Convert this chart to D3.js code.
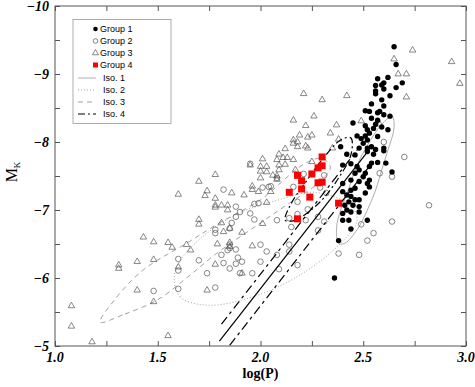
<!DOCTYPE html>
<html><head><meta charset="utf-8">
<script src="https://cdn.jsdelivr.net/npm/d3@7"></script>
<style>body{margin:0;background:#fff}</style></head>
<body><svg id="c" width="475" height="387"></svg>
<script>
// ---- data (log P, M_K) ----
const group1 = [[2.65,-9.40],[2.66,-9.14],[2.62,-8.95],[2.57,-8.93],[2.60,-8.87],[2.59,-8.84],[2.56,-8.83],[2.69,-8.87],[2.66,-8.80],[2.60,-8.78],[2.56,-8.75],[2.56,-8.71],[2.63,-8.68],[2.59,-8.62],[2.54,-8.56],[2.60,-8.53],[2.51,-8.46],[2.53,-8.45],[2.58,-8.45],[2.57,-8.43],[2.60,-8.40],[2.63,-8.38],[2.54,-8.35],[2.57,-8.32],[2.45,-8.28],[2.51,-8.24],[2.56,-8.26],[2.59,-8.22],[2.55,-8.20],[2.62,-8.18],[2.52,-8.18],[2.53,-8.13],[2.51,-8.09],[2.47,-8.09],[2.49,-8.05],[2.57,-8.08],[2.52,-8.03],[2.39,-7.93],[2.60,-7.91],[2.50,-7.98],[2.48,-7.91],[2.52,-7.91],[2.54,-7.93],[2.56,-7.89],[2.42,-7.82],[2.46,-7.81],[2.52,-7.86],[2.55,-7.82],[2.60,-7.87],[2.40,-7.66],[2.44,-7.68],[2.47,-7.64],[2.48,-7.59],[2.46,-7.54],[2.53,-7.64],[2.54,-7.69],[2.57,-7.70],[2.61,-7.69],[2.64,-7.56],[2.51,-7.54],[2.50,-7.49],[2.44,-7.44],[2.40,-7.39],[2.48,-7.42],[2.52,-7.39],[2.53,-7.44],[2.53,-7.34],[2.51,-7.25],[2.44,-7.29],[2.46,-7.32],[2.40,-7.27],[2.42,-7.22],[2.44,-7.20],[2.46,-7.15],[2.48,-7.15],[2.43,-7.12],[2.41,-7.07],[2.45,-7.07],[2.48,-7.05],[2.42,-7.00],[2.40,-6.95],[2.44,-6.97],[2.48,-6.97],[2.40,-6.85],[2.43,-6.85],[2.52,-6.85],[2.44,-6.72],[2.38,-6.55],[2.36,-6.00]];
const group2 = [[1.48,-5.81],[1.60,-5.84],[1.60,-6.28],[1.60,-6.11],[1.70,-6.26],[1.74,-6.07],[1.78,-5.86],[1.82,-7.30],[1.78,-6.66],[1.78,-6.71],[1.81,-6.34],[1.82,-6.22],[1.84,-6.41],[1.85,-6.14],[1.88,-6.21],[1.85,-6.73],[1.86,-6.81],[1.88,-6.90],[1.90,-6.97],[1.88,-7.05],[1.85,-6.44],[1.88,-6.42],[1.89,-6.30],[1.91,-6.24],[1.96,-6.07],[1.95,-6.95],[1.97,-6.86],[1.97,-7.09],[1.95,-7.68],[2.01,-7.33],[2.04,-7.34],[2.05,-7.35],[1.99,-7.10],[2.00,-6.49],[2.03,-6.39],[2.08,-6.85],[2.08,-6.34],[2.14,-6.39],[2.09,-6.13],[2.18,-6.19],[2.00,-6.24],[1.90,-6.07],[2.14,-6.49],[2.15,-6.75],[2.18,-6.94],[2.22,-6.85],[2.23,-7.01],[2.28,-6.90],[2.31,-6.83],[2.28,-6.70],[2.38,-6.36],[2.48,-6.34],[2.52,-6.55],[2.55,-6.66],[2.49,-6.79],[2.64,-6.83],[2.58,-7.54],[2.64,-7.49],[2.70,-7.78],[2.82,-7.07],[2.60,-8.00],[2.21,-7.53],[2.29,-7.33],[2.32,-7.25],[2.18,-7.12],[2.08,-7.47],[2.16,-7.34],[2.14,-6.88],[2.31,-7.51],[1.85,-6.49]];
const group3 = [[1.08,-5.59],[1.08,-5.29],[1.18,-5.06],[1.31,-6.19],[1.31,-6.14],[1.40,-6.24],[1.40,-5.82],[1.43,-6.60],[1.48,-6.53],[1.48,-6.27],[1.48,-5.65],[1.55,-6.52],[1.57,-6.45],[1.55,-5.15],[1.60,-7.23],[1.60,-6.16],[1.64,-6.49],[1.66,-6.41],[1.70,-7.42],[1.70,-6.86],[1.70,-6.79],[1.74,-7.28],[1.73,-7.21],[1.74,-5.82],[1.78,-7.17],[1.78,-7.52],[1.78,-7.07],[1.78,-7.04],[1.78,-6.20],[1.79,-6.50],[1.81,-7.07],[1.84,-7.07],[1.84,-7.00],[1.81,-6.81],[1.82,-6.68],[1.85,-6.73],[1.85,-6.52],[1.85,-6.46],[1.86,-7.25],[1.91,-6.07],[1.91,-6.67],[1.92,-7.22],[1.96,-7.35],[1.96,-7.30],[1.96,-6.47],[1.99,-7.27],[1.95,-7.66],[2.00,-7.64],[2.03,-7.64],[2.00,-7.57],[2.03,-7.56],[2.00,-7.47],[2.01,-7.75],[2.08,-7.74],[2.08,-7.50],[2.08,-7.45],[2.09,-7.66],[2.12,-7.67],[2.09,-7.82],[2.11,-7.77],[2.13,-7.77],[2.12,-7.90],[2.16,-7.74],[2.17,-7.59],[2.16,-8.03],[2.16,-7.98],[2.18,-8.00],[2.18,-7.93],[2.22,-7.94],[2.19,-8.10],[2.22,-8.24],[2.16,-8.32],[2.21,-8.71],[2.30,-8.62],[2.42,-8.68],[2.26,-8.38],[2.37,-8.25],[2.34,-8.13],[2.23,-8.07],[2.38,-8.04],[2.23,-7.91],[2.35,-7.91],[2.25,-7.71],[2.49,-8.31],[2.58,-8.26],[2.65,-9.22],[2.67,-9.00],[2.71,-9.00],[2.71,-8.66],[2.74,-9.35],[2.93,-9.18],[2.97,-8.86],[2.01,-6.80],[2.05,-7.27],[2.06,-7.51],[2.03,-7.11],[2.25,-8.10],[2.09,-7.59]];
const group4 = [[2.30,-7.78],[2.28,-7.62],[2.30,-7.65],[2.18,-7.51],[2.20,-7.43],[2.25,-7.53],[2.28,-7.40],[2.30,-7.41],[2.14,-7.26],[2.20,-7.31],[2.24,-7.19],[2.38,-7.10],[2.18,-6.87]];

// iso-density contours (closed curves)
const iso1 = [[2.38,-6.51],[2.37,-6.74],[2.39,-7.00],[2.43,-7.32],[2.47,-7.66],[2.53,-8.00],[2.59,-8.26],[2.64,-8.38],[2.65,-8.21],[2.62,-7.88],[2.59,-7.59],[2.56,-7.29],[2.52,-7.00],[2.47,-6.71],[2.41,-6.51]];
const iso2 = [[1.58,-6.00],[1.61,-5.72],[1.74,-5.60],[1.96,-5.72],[2.19,-6.04],[2.39,-6.51],[2.47,-6.85],[2.44,-7.07],[2.26,-7.26],[2.09,-7.15],[1.90,-6.96],[1.74,-6.66],[1.61,-6.26]];
const iso3 = [[1.22,-5.35],[1.34,-5.47],[1.50,-5.68],[1.64,-6.00],[1.79,-6.37],[2.00,-6.81],[2.14,-7.10],[2.27,-7.37],[2.34,-7.62],[2.30,-7.76],[2.22,-7.69],[2.14,-7.51],[2.00,-7.15],[1.80,-6.81],[1.64,-6.51],[1.43,-6.12],[1.29,-5.68]];
const iso4 = [[2.12,-6.85],[2.15,-7.10],[2.22,-7.41],[2.30,-7.74],[2.39,-8.03],[2.44,-8.06],[2.44,-7.81],[2.38,-7.47],[2.30,-7.15],[2.22,-6.94],[2.16,-6.84]];

// straight relations (endpoints)
const lineSolid = [[1.80,-5.07],[2.53,-7.89]];
const lineUpper = [[1.81,-5.32],[2.48,-7.92]];
const lineLower = [[1.85,-5.01],[2.55,-7.72]];

const xMajor = [1.0,1.5,2.0,2.5,3.0];
const xMinor = [1.0,1.25,1.5,1.75,2.0,2.25,2.5,2.75,3.0];
const yMajor = [-10,-9,-8,-7,-6,-5];
const yMinor = [-10,-9.5,-9,-8.5,-8,-7.5,-7,-6.5,-6,-5.5,-5];
const groupNames = ["Group 1","Group 2","Group 3","Group 4"];
const isoNames = ["Iso. 1","Iso. 2","Iso. 3","Iso. 4"];

// ---- drawing ----
const svg = d3.select('#c');
const X0=55, X1=466, Y0=6, Y1=346;
const x = d3.scaleLinear().domain([1,3]).range([X0,X1]);
const y = d3.scaleLinear().domain([-10,-5]).range([Y0,Y1]);
const axisCol = '#555';

const isoStyle = [
  {stroke:'#999', w:0.8, dash:null},
  {stroke:'#999', w:0.9, dash:'1,2'},
  {stroke:'#888', w:0.8, dash:'5,4'},
  {stroke:'#000', w:1.2, dash:'7,3,2,3'}
];

const g = svg.append('g');
const contour = d3.line().x(d=>x(d[0])).y(d=>y(d[1])).curve(d3.curveCatmullRomClosed.alpha(0.5));
[iso1,iso2,iso3].forEach((c,i)=>{
  g.append('path').attr('d',contour(c)).attr('fill','none')
   .attr('stroke',isoStyle[i].stroke).attr('stroke-width',isoStyle[i].w)
   .attr('stroke-dasharray',isoStyle[i].dash);
});

// markers
const sym = d3.symbol();
g.selectAll('.g3').data(group3).join('path')
  .attr('transform',d=>`translate(${x(d[0])},${y(d[1])})`)
  .attr('d',sym.type(d3.symbolTriangle).size(18)()).attr('fill','none')
  .attr('stroke','#555').attr('stroke-width',0.7);
g.selectAll('.g2').data(group2).join('circle')
  .attr('cx',d=>x(d[0])).attr('cy',d=>y(d[1])).attr('r',2.8)
  .attr('fill','none').attr('stroke','#555').attr('stroke-width',0.7);
g.selectAll('.g1').data(group1).join('circle')
  .attr('cx',d=>x(d[0])).attr('cy',d=>y(d[1])).attr('r',2.7).attr('fill','#000');

const ln = d3.line().x(d=>x(d[0])).y(d=>y(d[1]));
g.append('path').attr('d',ln(lineSolid)).attr('stroke','#000').attr('stroke-width',1.2).attr('fill','none');
g.append('path').attr('d',ln(lineUpper)).attr('stroke','#000').attr('stroke-width',1.2).attr('fill','none').attr('stroke-dasharray','9,4,3,4');
g.append('path').attr('d',ln(lineLower)).attr('stroke','#000').attr('stroke-width',1.2).attr('fill','none').attr('stroke-dasharray','9,4,3,4');
g.append('path').attr('d',contour(iso4)).attr('fill','none')
   .attr('stroke',isoStyle[3].stroke).attr('stroke-width',isoStyle[3].w)
   .attr('stroke-dasharray',isoStyle[3].dash);

const sq = 7;
g.selectAll('.g4').data(group4).join('rect')
  .attr('x',d=>x(d[0])-sq/2).attr('y',d=>y(d[1])-sq/2).attr('width',sq).attr('height',sq).attr('fill','#f00');

// frame & ticks (inward, mirrored)
svg.append('rect').attr('x',X0).attr('y',Y0).attr('width',X1-X0).attr('height',Y1-Y0)
  .attr('fill','none').attr('stroke',axisCol).attr('stroke-width',1);
const tk = 5;
const axB = svg.append('g').attr('transform',`translate(0,${Y1})`).call(d3.axisBottom(x).tickValues(xMinor).tickSize(-tk).tickFormat(''));
const axT = svg.append('g').attr('transform',`translate(0,${Y0})`).call(d3.axisTop(x).tickValues(xMinor).tickSize(-tk).tickFormat(''));
const axL = svg.append('g').attr('transform',`translate(${X0},0)`).call(d3.axisLeft(y).tickValues(yMinor).tickSize(-tk).tickFormat(''));
const axR = svg.append('g').attr('transform',`translate(${X1},0)`).call(d3.axisRight(y).tickValues(yMinor).tickSize(-tk).tickFormat(''));
[axB,axT,axL,axR].forEach(a=>{a.select('.domain').remove(); a.selectAll('line').attr('stroke',axisCol);});

// tick labels
const lf = 'Liberation Serif, Times New Roman, serif';
svg.append('g').selectAll('text').data(xMajor).join('text')
  .attr('x',d=>x(d)).attr('y',Y1+16).attr('text-anchor','middle')
  .attr('font-family',lf).attr('font-weight','bold').attr('font-style','italic').attr('font-size',14)
  .text(d3.format('.1f'));
svg.append('g').selectAll('text').data(yMajor).join('text')
  .attr('x',X0-6).attr('y',d=>y(d)+5).attr('text-anchor','end')
  .attr('font-family',lf).attr('font-weight','bold').attr('font-style','italic').attr('font-size',14)
  .text(d3.format('d'));

// axis titles
svg.append('text').attr('x',x(2.0)).attr('y',378).attr('text-anchor','middle')
  .attr('font-family',lf).attr('font-weight','bold').attr('font-size',14).text('log(P)');
const yt = svg.append('text').attr('transform','translate(17,172) rotate(-90)').attr('text-anchor','middle')
  .attr('font-family',lf).attr('font-size',16);
yt.append('tspan').text('M');
yt.append('tspan').attr('font-size',9).attr('dy',3).text('K');

// legend
const lg = svg.append('g');
lg.append('rect').attr('x',73).attr('y',19.5).attr('width',98).attr('height',104)
  .attr('fill','#fff').attr('stroke','#999').attr('stroke-width',0.8);
const lfont = 'Liberation Sans, Arial, Helvetica, sans-serif';
const rowY = i => 29 + i*12;
groupNames.forEach((n,i)=>{
  const cy = rowY(i);
  if(i===0) lg.append('circle').attr('cx',95.5).attr('cy',cy).attr('r',2.3).attr('fill','#000');
  if(i===1) lg.append('circle').attr('cx',95.5).attr('cy',cy).attr('r',2.3).attr('fill','none').attr('stroke','#555').attr('stroke-width',0.7);
  if(i===2) lg.append('path').attr('transform',`translate(95.5,${cy})`).attr('d',d3.symbol(d3.symbolTriangle,16)()).attr('fill','none').attr('stroke','#555').attr('stroke-width',0.7);
  if(i===3) lg.append('rect').attr('x',93).attr('y',cy-2.5).attr('width',5).attr('height',5).attr('fill','#f00');
  lg.append('text').attr('x',100).attr('y',cy+3.3).attr('font-family',lfont).attr('font-size',9).text(n);
});
isoNames.forEach((n,i)=>{
  const cy = rowY(i+4)+1;
  lg.append('line').attr('x1',78).attr('x2',96).attr('y1',cy).attr('y2',cy)
    .attr('stroke',isoStyle[i].stroke).attr('stroke-width',isoStyle[i].w).attr('stroke-dasharray',isoStyle[i].dash);
  lg.append('text').attr('x',103).attr('y',cy+3.3).attr('font-family',lfont).attr('font-size',9).text(n);
});
</script>
</body></html>
